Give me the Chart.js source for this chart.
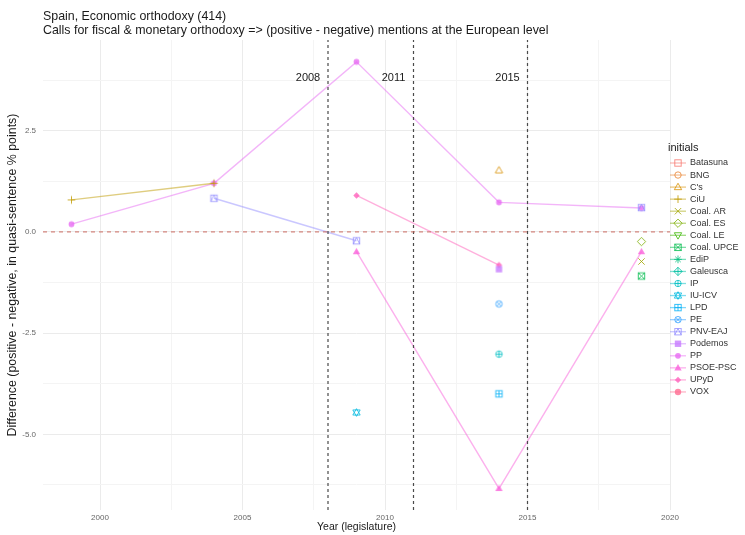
<!DOCTYPE html>
<html>
<head>
<meta charset="utf-8">
<script src="https://cdn.jsdelivr.net/npm/chart.js@4.4.1/dist/chart.umd.min.js"></script>
<style>
  html, body { margin: 0; padding: 0; background: #fff; }
  canvas { display: block; }
</style>
</head>
<body>
<canvas id="chart" width="745" height="535"></canvas>
<script>
var years = [1999, 2004, 2009, 2014, 2019];
var parties = ['Batasuna', 'BNG', "C's", 'CiU', 'Coal. AR', 'Coal. ES', 'Coal. LE', 'Coal. UPCE',
  'EdiP', 'Galeusca', 'IP', 'IU-ICV', 'LPD', 'PE', 'PNV-EAJ', 'Podemos', 'PP', 'PSOE-PSC', 'UPyD', 'VOX'];
var colours = ['#F8766D', '#EA8331', '#D89000', '#C09B00', '#A3A500', '#7CAE00', '#39B600', '#00BB4E',
  '#00BF7D', '#00C1A3', '#00BFC4', '#00BAE0', '#00B0F6', '#35A2FF', '#9590FF', '#C77CFF',
  '#E76BF3', '#FA62DB', '#FF62BC', '#FF6C91'];

// values per party, one per legislature year (null = not present)
var batasuna  = [null, null, null, null, null];
var bng       = [null, null, null, null, null];
var cs        = [null, null, null, 1.52, null];
var ciu       = [0.79, 1.2, null, null, null];
var coalAR    = [null, null, null, null, -0.73];
var coalES    = [null, null, null, null, -0.24];
var coalLE    = [null, null, null, null, null];
var coalUPCE  = [null, null, null, null, -1.09];
var edip      = [null, null, null, null, null];
var galeusca  = [null, null, null, null, null];
var ip        = [null, null, null, -3.02, null];
var iuicv     = [null, null, -4.46, null, null];
var lpd       = [null, null, null, -4.0, null];
var pe        = [null, null, null, -1.78, null];
var pnv       = [null, 0.83, -0.22, null, 0.6];
var podemos   = [null, null, null, -0.92, null];
var pp        = [0.19, 1.2, 4.2, 0.73, 0.59];
var psoe      = [null, null, -0.49, -6.34, -0.49];
var upyd      = [null, null, 0.9, -0.82, null];
var vox       = [null, null, null, null, null];

var values = [batasuna, bng, cs, ciu, coalAR, coalES, coalLE, coalUPCE, edip, galeusca,
  ip, iuicv, lpd, pe, pnv, podemos, pp, psoe, upyd, vox];

var events = [2008, 2011, 2015];
var xTicks = [2000, 2002.5, 2005, 2007.5, 2010, 2012.5, 2015, 2017.5, 2020];
var yTicks = [-6.25, -5, -3.75, -2.5, -1.25, 0, 1.25, 2.5, 3.75];
var yMin = -6.87, yMax = 4.74;

var FONT = "'Liberation Sans', Arial, sans-serif";

function hexA(hex, a) {
  var r = parseInt(hex.slice(1, 3), 16), g = parseInt(hex.slice(3, 5), 16), b = parseInt(hex.slice(5, 7), 16);
  return 'rgba(' + r + ',' + g + ',' + b + ',' + a + ')';
}

// ggplot style shapes 0..19
function drawShape(ctx, shape, x, y, r, color) {
  ctx.save();
  ctx.strokeStyle = color;
  ctx.fillStyle = color;
  ctx.lineWidth = 1;
  function sq() { ctx.strokeRect(x - r, y - r, 2 * r, 2 * r); }
  function circ() { ctx.beginPath(); ctx.arc(x, y, r, 0, Math.PI * 2); ctx.stroke(); }
  function plus(k) { ctx.beginPath(); ctx.moveTo(x - k, y); ctx.lineTo(x + k, y); ctx.moveTo(x, y - k); ctx.lineTo(x, y + k); ctx.stroke(); }
  function cross(k) { ctx.beginPath(); ctx.moveTo(x - k, y - k); ctx.lineTo(x + k, y + k); ctx.moveTo(x - k, y + k); ctx.lineTo(x + k, y - k); ctx.stroke(); }
  function tri(down, fill) {
    var s = down ? -1 : 1;
    ctx.beginPath();
    ctx.moveTo(x, y - s * r * 1.2);
    ctx.lineTo(x - r * 1.15, y + s * r * 0.8);
    ctx.lineTo(x + r * 1.15, y + s * r * 0.8);
    ctx.closePath();
    if (fill) ctx.fill(); else ctx.stroke();
  }
  function diam(k, fill) {
    ctx.beginPath();
    ctx.moveTo(x, y - k); ctx.lineTo(x + k, y); ctx.lineTo(x, y + k); ctx.lineTo(x - k, y);
    ctx.closePath();
    if (fill) ctx.fill(); else ctx.stroke();
  }
  switch (shape) {
    case 0: sq(); break;
    case 1: circ(); break;
    case 2: tri(false, false); break;
    case 3: plus(r * 1.2); break;
    case 4: cross(r); break;
    case 5: diam(r * 1.3, false); break;
    case 6: tri(true, false); break;
    case 7: sq(); cross(r); break;
    case 8: plus(r * 1.2); cross(r * 0.85); break;
    case 9: diam(r * 1.3, false); plus(r * 1.3); break;
    case 10: circ(); plus(r); break;
    case 11: tri(false, false); tri(true, false); break;
    case 12: sq(); plus(r); break;
    case 13: circ(); cross(r * 0.7); break;
    case 14:
      sq();
      ctx.beginPath(); ctx.moveTo(x - r, y + r); ctx.lineTo(x, y - r); ctx.lineTo(x + r, y + r); ctx.stroke();
      break;
    case 15: ctx.fillRect(x - r, y - r, 2 * r, 2 * r); break;
    case 16: ctx.beginPath(); ctx.arc(x, y, r * 0.9, 0, Math.PI * 2); ctx.fill(); break;
    case 17: tri(false, true); break;
    case 18: diam(r * 1.0, true); break;
    case 19: ctx.beginPath(); ctx.arc(x, y, r, 0, Math.PI * 2); ctx.fill(); break;
  }
  ctx.restore();
}

function shapeImage(shape, color) {
  var c = document.createElement('canvas');
  c.width = 13; c.height = 13;
  drawShape(c.getContext('2d'), shape, 6.5, 6.5, 3.2, color);
  return c;
}

var datasets = parties.map(function (name, i) {
  return {
    label: name,
    data: years.map(function (yr, j) { return { x: yr, y: values[i][j] }; }),
    showLine: true,
    spanGaps: false,
    borderColor: hexA(colours[i], 0.5),
    borderWidth: 1.4,
    pointStyle: shapeImage(i, hexA(colours[i], 0.8)),
    pointRadius: 3,
    order: 1
  };
});

// zero reference line
datasets.push({
  label: 'zero',
  data: [{ x: 1998, y: 0 }, { x: 2020, y: 0 }],
  showLine: true,
  borderColor: 'rgba(205,110,100,0.85)',
  borderWidth: 1.2,
  borderDash: [4, 4],
  pointRadius: 0,
  order: 0
});
// election/crisis markers
events.forEach(function (ev) {
  datasets.push({
    label: 'ev' + ev,
    data: [{ x: ev, y: yMin }, { x: ev, y: yMax }],
    showLine: true,
    borderColor: '#4a4a4a',
    borderWidth: 1.2,
    borderDash: [3, 3],
    pointRadius: 0,
    order: 0
  });
});

var extras = {
  id: 'extras',
  afterDraw: function (chart) {
    var ctx = chart.ctx;
    var xs = chart.scales.x, ys = chart.scales.y;
    ctx.save();
    // title
    ctx.fillStyle = '#1a1a1a';
    ctx.font = '12.4px ' + FONT;
    ctx.textBaseline = 'middle';
    ctx.textAlign = 'left';
    ctx.fillText('Spain, Economic orthodoxy (414)', 43, 17);
    ctx.fillText('Calls for fiscal & monetary orthodoxy => (positive - negative) mentions at the European level', 43, 31);
    // event labels
    ctx.font = '11px ' + FONT;
    ctx.textAlign = 'center';
    events.forEach(function (ev) {
      ctx.fillText(String(ev), xs.getPixelForValue(ev) - 20, ys.getPixelForValue(3.8));
    });
    // legend
    ctx.textAlign = 'left';
    ctx.font = '11px ' + FONT;
    ctx.fillStyle = '#1a1a1a';
    ctx.fillText('initials', 668, 148);
    ctx.font = '9px ' + FONT;
    parties.forEach(function (name, i) {
      var y = 163 + i * 12.05;
      ctx.strokeStyle = hexA(colours[i], 0.5);
      ctx.lineWidth = 1.3;
      ctx.beginPath(); ctx.moveTo(670, y); ctx.lineTo(686, y); ctx.stroke();
      drawShape(ctx, i, 678, y, 3.2, hexA(colours[i], 0.8));
      ctx.fillStyle = '#333';
      ctx.fillText(name, 690, y);
    });
    ctx.restore();
  }
};

var chart = new Chart(document.getElementById('chart').getContext('2d'), {
  type: 'scatter',
  data: { datasets: datasets },
  options: {
    responsive: false,
    animation: false,
    devicePixelRatio: 1,
    layout: { padding: { top: 40, right: 75, left: 0, bottom: 0 } },
    plugins: { legend: { display: false }, title: { display: false }, tooltip: { enabled: false } },
    scales: {
      x: {
        type: 'linear',
        min: 1998,
        max: 2020,
        afterBuildTicks: function (scale) { scale.ticks = xTicks.map(function (v) { return { value: v }; }); },
        afterFit: function (scale) { scale.height = 25; },
        border: { display: false },
        grid: {
          drawTicks: false,
          color: function (c) { return c.tick && c.tick.value % 5 === 0 ? '#ebebeb' : '#f4f4f4'; }
        },
        ticks: {
          padding: 3,
          color: '#666',
          font: { size: 8, family: FONT },
          callback: function (v) { return v % 5 === 0 ? String(v) : ''; }
        },
        title: {
          display: true,
          text: 'Year (legislature)',
          color: '#1a1a1a',
          font: { size: 10.5, family: FONT },
          padding: { top: 0, bottom: 2 }
        }
      },
      y: {
        min: yMin,
        max: yMax,
        afterBuildTicks: function (scale) { scale.ticks = yTicks.map(function (v) { return { value: v }; }); },
        afterFit: function (scale) { scale.width = 43; },
        border: { display: false },
        grid: {
          drawTicks: false,
          color: function (c) { return c.tick && Math.abs(c.tick.value % 2.5) < 1e-9 ? '#ebebeb' : '#f4f4f4'; }
        },
        ticks: {
          padding: 7,
          color: '#666',
          font: { size: 8, family: FONT },
          callback: function (v) { return Math.abs(v % 2.5) < 1e-9 ? v.toFixed(1) : ''; }
        },
        title: {
          display: true,
          text: 'Difference (positive - negative, in quasi-sentence % points)',
          color: '#1a1a1a',
          font: { size: 12.4, family: FONT },
          padding: { top: 5, bottom: 0 }
        }
      }
    }
  },
  plugins: [extras]
});
</script>
</body>
</html>
